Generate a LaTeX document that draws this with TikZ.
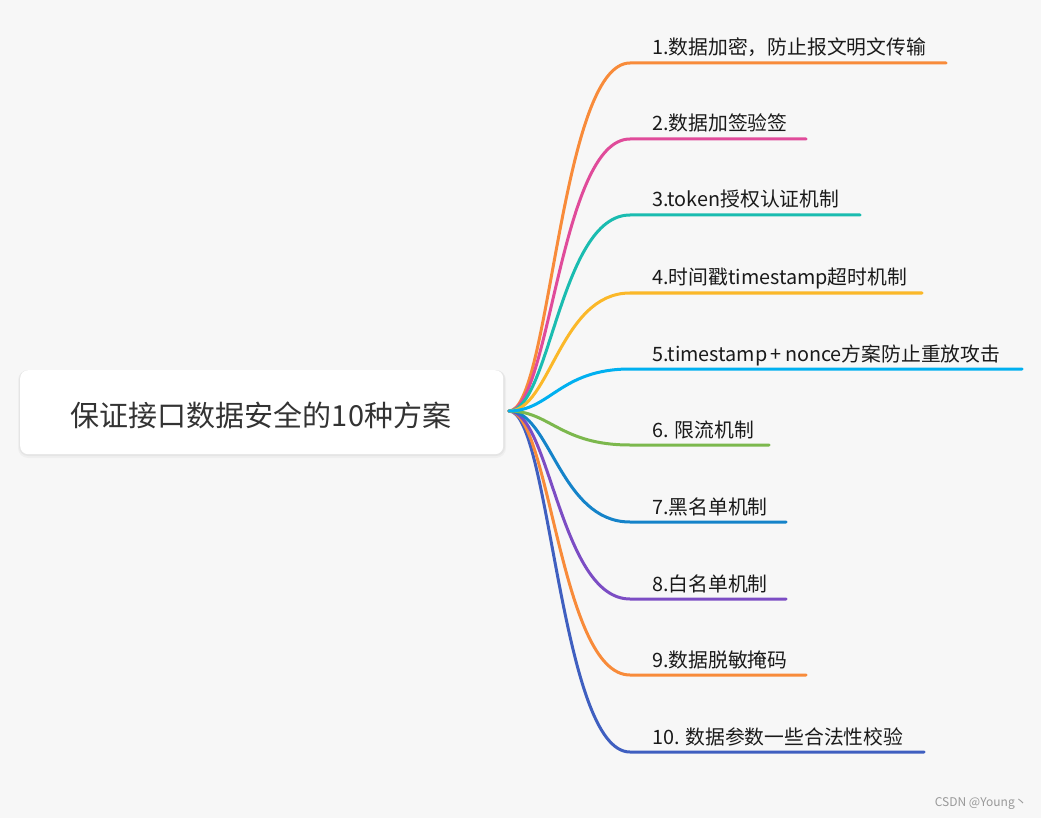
\documentclass[tikz,border=0pt]{standalone}
\usepackage{fontspec}
\usetikzlibrary{calc}
\setmainfont{Noto Sans CJK SC}
\definecolor{bg}{HTML}{F7F7F7}
\definecolor{c1}{HTML}{F88B3A}
\definecolor{c2}{HTML}{E04B9A}
\definecolor{c3}{HTML}{1ABCB0}
\definecolor{c4}{HTML}{FBB829}
\definecolor{c5}{HTML}{00B0F0}
\definecolor{c6}{HTML}{7CB84D}
\definecolor{c7}{HTML}{1583C9}
\definecolor{c8}{HTML}{7C4DC4}
\definecolor{c9}{HTML}{F88B3A}
\definecolor{c10}{HTML}{3F5FC0}
\definecolor{txt}{HTML}{1A1A1A}
\definecolor{roottxt}{HTML}{333333}
\begin{document}
\begin{tikzpicture}[x=1pt,y=-1pt,
  branch/.style={line width=3pt, line cap=round},
  lbl/.style={anchor=base west, inner sep=0pt, text=txt, font=\fontsize{19.8}{24}\selectfont},
]
\useasboundingbox (0,0) rectangle (1041,818);
\fill[bg] (0,0) rectangle (1041,818);
% root shadow
\fill[black, opacity=0.03, rounded corners=10pt] (18,370) rectangle (506,458);
\fill[black, opacity=0.04, rounded corners=9pt] (19,370) rectangle (505,456);
\node[draw=none, fill=white, rounded corners=8pt, minimum width=483pt, minimum height=84pt, anchor=north west, inner sep=0pt] (rootbox) at (20,370) {};
\node[text=roottxt, font=\fontsize{29}{34}\selectfont, inner sep=0pt] (root) at (261,415) {保证接口数据安全的10种方案};
\coordinate (o) at (509,411);
% branches
\foreach \i/\y/\xe/\t in {
  1/63/946/{1.数据加密，防止报文明文传输},
  2/139/806/{2.数据加签验签},
  3/215/860/{3.token授权认证机制},
  4/293/922/{4.时间戳timestamp超时机制},
  5/369/1022/{5.timestamp\,+\,nonce方案防止重放攻击},
  6/445/769/{6. 限流机制},
  7/522/786/{7.黑名单机制},
  8/599/786/{8.白名单机制},
  9/675/806/{9.数据脱敏掩码},
  10/752/924/{10. 数据参数一些合法性校验}} {
  \coordinate (e\i) at (630,\y);
  \coordinate (f\i) at (\xe,\y);
  \node[lbl] (l\i) at (652,\y-8) {\t};
}
\foreach \i in {10,9,8,7,6,1,2,3,4,5} {
  \draw[branch, color=c\i] (o) .. controls ($(o)+(41,0)$) and ($(e\i)+(-70,0)$) .. (e\i) -- (f\i);
}
\node[anchor=base east, inner sep=0pt, text=gray!80, font=\fontsize{12}{14}\selectfont] (wm) at (1027,806) {CSDN @Young丶};
\end{tikzpicture}
\end{document}
